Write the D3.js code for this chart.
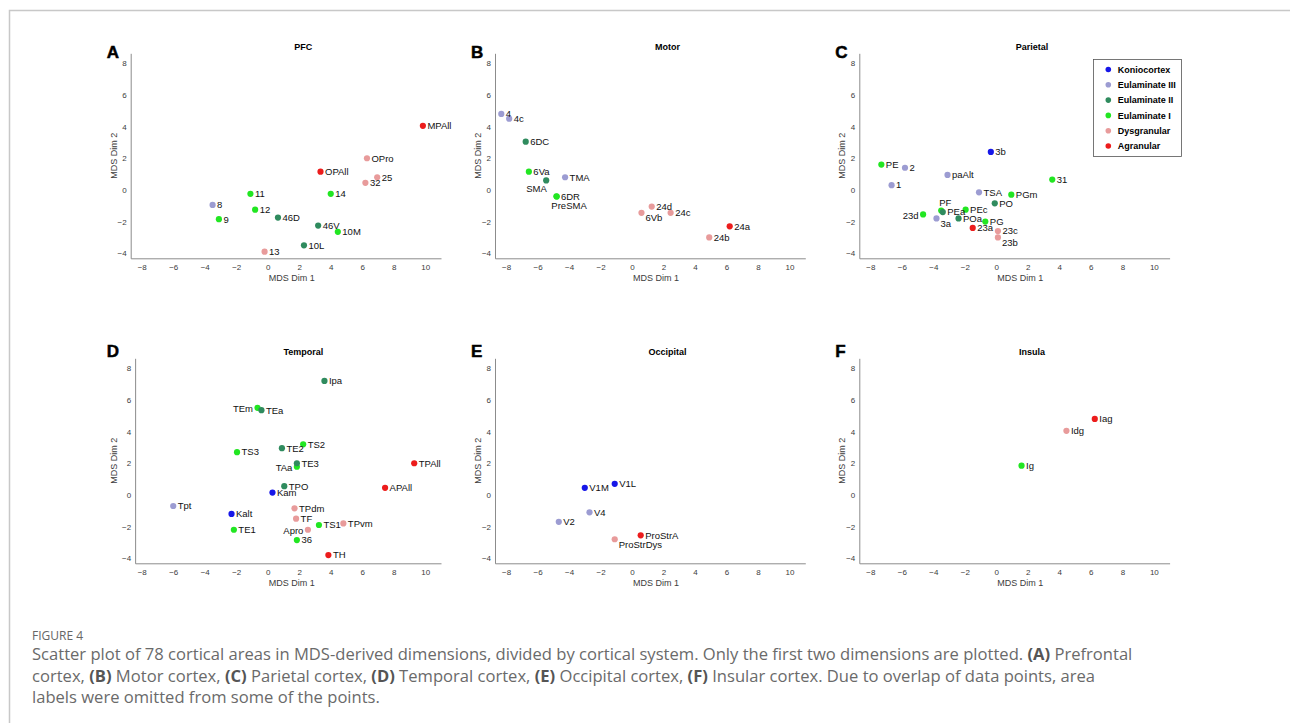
<!DOCTYPE html>
<html lang="en">
<head>
<meta charset="UTF-8">
<title>MDS scatter by cortical system</title>
<script src="https://d3js.org/d3.v7.min.js"></script>
<style>
    body { margin: 0; background: #fff; }
    svg text { font-family: "Liberation Sans", Arial, sans-serif; }
    .caption text { font-family: "Open Sans", Lato, sans-serif; }
</style>
</head>
<body>
<script>

// cortical type classes (legend order)
var classNames = ['Koniocortex', 'Eulaminate III', 'Eulaminate II', 'Eulaminate I', 'Dysgranular', 'Agranular'];
var classColors = ['#1717e8', '#9c9cd2', '#2f8b5e', '#22e622', '#e89b9b', '#ec1c1c'];

var panelLetters = ['A', 'B', 'C', 'D', 'E', 'F'];
var panelTitles = ['PFC', 'Motor', 'Parietal', 'Temporal', 'Occipital', 'Insula'];

// [area, MDS dim 1, MDS dim 2, class index]
var pfc = [
    ['MPAll', 9.85, 4.05, 5], ['OPro', 6.3, 2.0, 4], ['OPAll', 3.35, 1.15, 5],
    ['25', 6.95, 0.8, 4], ['32', 6.2, 0.45, 4], ['14', 4.0, -0.25, 3],
    ['11', -1.1, -0.25, 3], ['8', -3.5, -0.95, 1], ['12', -0.8, -1.25, 3],
    ['9', -3.1, -1.85, 3], ['46D', 0.65, -1.75, 2], ['46V', 3.2, -2.25, 2],
    ['10M', 4.45, -2.65, 3], ['10L', 2.3, -3.5, 2], ['13', -0.2, -3.9, 4]
];
var motor = [
    ['4', -8.3, 4.8, 1], ['4c', -7.8, 4.5, 1], ['6DC', -6.75, 3.05, 2],
    ['6Va', -6.55, 1.15, 3], ['SMA', -5.45, 0.6, 2], ['TMA', -4.25, 0.8, 1],
    ['PreSMA', -4.78, -0.42, 3], ['6DR', -4.8, -0.4, 3],
    ['24d', 1.25, -1.05, 4], ['6Vb', 0.6, -1.45, 4], ['24c', 2.45, -1.45, 4],
    ['24a', 6.2, -2.3, 5], ['24b', 4.9, -3.0, 4]
];
var parietal = [
    ['3b', -0.35, 2.4, 0], ['PE', -7.3, 1.6, 3], ['2', -5.8, 1.4, 1],
    ['1', -6.65, 0.3, 1], ['paAlt', -3.1, 0.95, 1], ['31', 3.55, 0.65, 3],
    ['TSA', -1.1, -0.15, 1], ['PGm', 0.95, -0.3, 3], ['PO', -0.1, -0.85, 2],
    ['PEc', -1.95, -1.25, 3], ['PF', -3.5, -1.3, 3], ['PEa', -3.4, -1.4, 2],
    ['23d', -4.65, -1.55, 3], ['3a', -3.8, -1.8, 1], ['POa', -2.4, -1.8, 2],
    ['PG', -0.7, -2.0, 3], ['23a', -1.5, -2.4, 5], ['23c', 0.1, -2.6, 4],
    ['23b', 0.1, -3.0, 4]
];
var temporal = [
    ['Ipa', 3.6, 7.2, 2], ['TEm', -0.65, 5.5, 3], ['TEa', -0.4, 5.35, 2],
    ['TS2', 2.25, 3.2, 3], ['TE2', 0.9, 2.95, 2], ['TS3', -1.95, 2.7, 3],
    ['TAa', 1.85, 1.78, 3], ['TE3', 1.85, 2.0, 2], ['TPAll', 9.3, 2.0, 5],
    ['APAll', 7.45, 0.45, 5], ['TPO', 1.05, 0.55, 2], ['Kam', 0.3, 0.15, 0],
    ['Tpt', -6.0, -0.7, 1], ['TPdm', 1.7, -0.85, 4], ['Kalt', -2.3, -1.2, 0],
    ['TF', 1.8, -1.5, 4], ['TS1', 3.25, -1.9, 3], ['TPvm', 4.8, -1.8, 4],
    ['TE1', -2.15, -2.2, 3], ['Apro', 2.55, -2.2, 4], ['36', 1.85, -2.85, 3],
    ['TH', 3.85, -3.8, 5]
];
var occipital = [
    ['V1M', -3.0, 0.45, 0], ['V1L', -1.1, 0.7, 0], ['V4', -2.7, -1.1, 1],
    ['V2', -4.65, -1.7, 1], ['ProStrA', 0.55, -2.55, 5], ['ProStrDys', -1.1, -2.8, 4]
];
var insula = [
    ['Iag', 6.25, 4.8, 5], ['Idg', 4.45, 4.05, 4], ['Ig', 1.6, 1.85, 3]
];

var panels = [pfc, motor, parietal, temporal, occipital, insula];

var xTicks = [-8, -6, -4, -2, 0, 2, 4, 6, 8, 10];
var yTicks = [-4, -2, 0, 2, 4, 6, 8];
var xMinByPanel = [-8.7, -8.7, -8.7, -8.42, -8.7, -8.7];

// where a label sits when it is not simply to the right of its point
var labelSide = {
    SMA: 'bl', PreSMA: 'bc', '6Vb': 'br', '3a': 'br', '23b': 'br', ProStrDys: 'br',
    PF: 'a', '23d': 'l', TEm: 'l', TAa: 'l', Apro: 'l'
};

var captionLines = [
    'Scatter plot of 78 cortical areas in MDS-derived dimensions, divided by cortical system. Only the first two dimensions are plotted. (A) Prefrontal',
    'cortex, (B) Motor cortex, (C) Parietal cortex, (D) Temporal cortex, (E) Occipital cortex, (F) Insular cortex. Due to overlap of data points, area',
    'labels were omitted from some of the points.'
];

var W = 1290, H = 723;
var axisGrey = '#8c8c8c', tickText = '#3c3c3c';

var svg = d3.select('body').append('svg')
    .attr('width', W)
    .attr('height', H);

// page frame
svg.append('path')
    .attr('d', 'M' + W + ',10.5H9.5V' + H)
    .attr('fill', 'none')
    .attr('stroke', '#c8c8c8')
    .attr('stroke-width', 1.5);

var yDom = [-4.32, 8.63], xMax = 11;
var plotH = 205, plotW = 310.3;

panels.forEach(function (pts, i) {
    var col = i % 3, row = Math.floor(i / 3);
    var left = 130.7 + 364.3 * col;
    var top = 53.3 + 305 * row;

    var base = d3.scaleLinear().domain([-8.7, xMax]).range([left, left + plotW]);
    var x = d3.scaleLinear().domain([xMinByPanel[i], xMax]).range([base(xMinByPanel[i]), base(xMax)]);
    var y = d3.scaleLinear().domain(yDom).range([top + plotH, top]);

    var g = svg.append('g');

    var xa = g.append('g')
        .attr('transform', 'translate(0,' + (top + plotH) + ')')
        .call(d3.axisBottom(x).tickValues(xTicks).tickSize(0).tickPadding(6));
    var ya = g.append('g')
        .attr('transform', 'translate(' + x.range()[0] + ',0)')
        .call(d3.axisLeft(y).tickValues(yTicks).tickSize(0).tickPadding(4));

    [xa, ya].forEach(function (a) {
        a.select('.domain').attr('stroke', axisGrey);
        a.selectAll('text')
            .attr('fill', tickText)
            .style('font-size', '8px')
            .style('font-family', '"Liberation Sans", Arial, sans-serif');
    });

    // title, letter, axis labels
    g.append('text')
        .attr('x', left + 172.6)
        .attr('y', top - 3.4)
        .attr('text-anchor', 'middle')
        .style('font-size', '9px')
        .style('font-weight', 'bold')
        .text(panelTitles[i]);

    g.append('text')
        .attr('x', left - 24)
        .attr('y', [57.5, 357][row])
        .style('font-size', '17px')
        .style('font-weight', 'bold')
        .attr('stroke', '#000')
        .attr('stroke-width', 0.5)
        .text(panelLetters[i]);

    g.append('text')
        .attr('x', left + 161)
        .attr('y', top + plotH + 23)
        .attr('text-anchor', 'middle')
        .attr('fill', tickText)
        .style('font-size', '9px')
        .text('MDS Dim 1');

    g.append('text')
        .attr('transform', 'translate(' + (left - 17) + ',' + (top + plotH / 2) + ') rotate(-90)')
        .attr('text-anchor', 'middle')
        .attr('dy', '0.35em')
        .attr('fill', tickText)
        .style('font-size', '9px')
        .text('MDS Dim 2');

    // points
    g.selectAll('circle.pt')
        .data(pts)
        .enter()
        .append('circle')
        .attr('class', 'pt')
        .attr('cx', function (d) { return x(d[1]); })
        .attr('cy', function (d) { return y(d[2]); })
        .attr('r', 3.1)
        .attr('fill', function (d) { return classColors[d[3]]; });

    g.selectAll('text.lbl')
        .data(pts)
        .enter()
        .append('text')
        .attr('class', 'lbl')
        .attr('x', function (d) {
            var s = labelSide[d[0]];
            var off = {l: -4.5, bl: -9.7, bc: 12.3, br: 4, a: -2}[s];
            return x(d[1]) + (off === undefined ? 4.5 : off);
        })
        .attr('y', function (d) {
            var s = labelSide[d[0]];
            var off = {l: 1, bl: 8.3, bc: 9, br: 5, a: -8}[s];
            return y(d[2]) + (off === undefined ? 0 : off);
        })
        .attr('dy', '0.35em')
        .attr('text-anchor', function (d) {
            var s = labelSide[d[0]];
            if (s === 'l') return 'end';
            if (s === 'bl' || s === 'bc') return 'middle';
            return 'start';
        })
        .attr('fill', '#111')
        .style('font-size', '9.5px')
        .text(function (d) { return d[0]; });

    // legend lives in the parietal panel
    if (i === 2) {
        var lg = g.append('g');
        lg.append('rect')
            .attr('x', 1093.5).attr('y', 59.5)
            .attr('width', 88).attr('height', 97)
            .attr('fill', '#fff')
            .attr('stroke', '#555')
            .attr('stroke-width', 0.8);
        var item = lg.selectAll('g.item')
            .data(classNames)
            .enter()
            .append('g')
            .attr('class', 'item')
            .attr('transform', function (d, k) { return 'translate(1108.3,' + (69.5 + 15.3 * k) + ')'; });
        item.append('circle')
            .attr('r', 2.8)
            .attr('fill', function (d, k) { return classColors[k]; });
        item.append('text')
            .attr('x', 9.4)
            .attr('dy', '0.35em')
            .style('font-size', '9px')
            .style('font-weight', 'bold')
            .text(function (d) { return d; });
    }
});

// caption
var cap = svg.append('g').attr('class', 'caption');
cap.append('text')
    .attr('x', 32)
    .attr('y', 640)
    .attr('fill', '#666')
    .style('font-size', '12px')
    .text('FIGURE 4');

var capTexts = captionLines.map(function (line, k) {
    var t = cap.append('text')
        .attr('x', 32)
        .attr('y', 660 + 21.5 * k)
        .attr('fill', '#6a6a6a')
        .style('font-size', '15px');
    line.split(/(\([A-F]\))/).forEach(function (part) {
        if (!part) return;
        var bold = /^\([A-F]\)$/.test(part);
        t.append('tspan')
            .attr('font-weight', bold ? 'bold' : null)
            .attr('fill', bold ? '#555' : null)
            .text(part);
    });
    return t;
});

// first caption line runs to about x = 1133 in the figure
var fitSize = 15 * 1101 / capTexts[0].node().getComputedTextLength();
capTexts.forEach(function (t) { t.style('font-size', fitSize + 'px'); });

</script>
</body>
</html>
